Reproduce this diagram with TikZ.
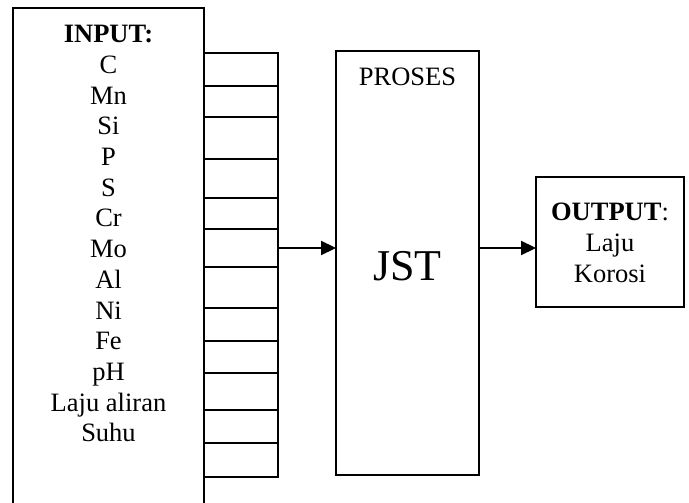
\documentclass[tikz,border=0pt]{standalone}
\usepackage{fontspec}
\setmainfont{Liberation Serif}
\usetikzlibrary{arrows.meta}
\begin{document}
\begin{tikzpicture}[x=1pt,y=-1pt,
  box/.style={draw,line width=1.5pt,inner sep=0pt,outer sep=0pt},
  txt/.style={font=\fontsize{26.5}{30.7}\selectfont,anchor=base,inner sep=0pt},
  bigtxt/.style={font=\fontsize{44}{50}\selectfont,anchor=base,inner sep=0pt},
  ln/.style={line width=1.5pt},
  arr/.style={line width=2.2pt,-{Triangle[length=15pt,width=14pt]}}]
\useasboundingbox (0,0) rectangle (689,503);
% input box (open at the bottom)
\coordinate (ibl) at (13,503);
\coordinate (itl) at (13,8);
\coordinate (itr) at (204,8);
\coordinate (ibr) at (204,503);
\draw[ln,line join=miter] (ibl) -- (itl) -- (itr) -- (ibr);
% ticks
\foreach \y [count=\i] in {53,86,117,159,198,229,267,308,341,373,410,443,477} {
  \coordinate (tl\i) at (204,\y);
  \coordinate (tr\i) at (278,\y);
}
\draw[ln,line join=miter] (tl1) -- (tr1) -- (tr13) -- (tl13);
\foreach \i in {2,...,12} {\draw[ln] (tl\i) -- (tr\i);}
% input text
\foreach \t [count=\k from 0] in {\textbf{INPUT:},C,Mn,Si,P,S,Cr,Mo,Al,Ni,Fe,pH,Laju aliran,Suhu}
  \node[txt] (in\k) at (108.5,42.7+30.7*\k) {\t};
% process box
\node[box,minimum width=143pt,minimum height=424pt] (proses) at (407.5,263) {};
\node[txt] (ptitle) at (407.5,85) {PROSES};
\node[bigtxt] (jst) at (407.5,280) {JST};
% output box
\node[box,minimum width=148pt,minimum height=130pt] (out) at (610,242) {};
\node[txt] (o1) at (610,220.7) {\textbf{OUTPUT}:};
\node[txt] (o2) at (610,251.4) {Laju};
\node[txt] (o3) at (610,282.1) {Korosi};
% arrows
\coordinate (a1) at (278,248);
\draw[arr] (a1) -- (a1 -| proses.west);
\draw[arr] (a1 -| proses.east) -- (a1 -| out.west);
\end{tikzpicture}
\end{document}
